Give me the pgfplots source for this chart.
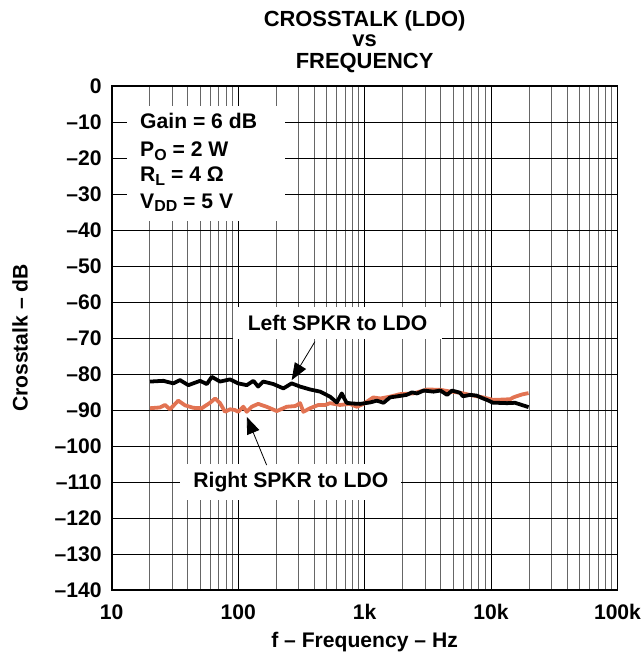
\documentclass[border=0pt]{standalone}
\usepackage{pgfplots}
\pgfplotsset{compat=1.18}
\usepackage{fontspec}
\setmainfont{Liberation Sans}
\usetikzlibrary{arrows.meta}
\definecolor{redc}{RGB}{226,115,82}
\newcommand{\sub}[1]{\raisebox{-3.5bp}{\fontsize{16}{16}\selectfont #1}}
\begin{document}
\begin{tikzpicture}[font=\fontsize{21.2}{24}\selectfont\bfseries]
\path[use as bounding box] (-111.7bp,-68bp) rectangle (532.3bp,590bp);
\begin{axis}[
  at={(0,0)}, anchor=south west,
  scale only axis, width=505.8bp, height=504bp,
  xmode=log, log basis x=10,
  xmin=10, xmax=100000, ymin=-140, ymax=0,
  xtick={10,100,1000,10000,100000},
  xticklabels={10,100,1k,10k,100k},
  minor xtick={20,30,40,50,60,70,80,90,200,300,400,500,600,700,800,900,2000,3000,4000,5000,6000,7000,8000,9000,20000,30000,40000,50000,60000,70000,80000,90000},
  ytick={-140,-130,-120,-110,-100,-90,-80,-70,-60,-50,-40,-30,-20,-10,0},
  yticklabels={–140,–130,–120,–110,–100,–90,–80,–70,–60,–50,–40,–30,–20,–10,0},
  major tick length=0pt, minor tick length=0pt,
  grid=both,
  major grid style={black, line width=0.7pt},
  minor grid style={black!60, line width=0.7pt},
  axis line style={black, line width=1.8pt},
  tick label style={font=\fontsize{21.2}{24}\selectfont\bfseries},
  yticklabel style={xshift=-6.5bp},
  xticklabel style={yshift=-11bp},
  clip=false,
]
% Right SPKR to LDO
\addplot[redc, line width=3.8pt, line join=round] coordinates {
(20.1,-89.5) (24,-89.3) (26.4,-88.6) (28.9,-89.8) (33.6,-87.4) (38,-88.7)
(44.3,-89.4) (51.6,-89.5) (59.9,-88.0) (65.7,-86.8) (71.9,-88.1) (78.8,-90.5)
(86.3,-89.8) (94.4,-90.0) (100,-90.5) (110,-89.1) (117,-90.5) (128,-89.1)
(144,-88.3) (168,-89.1) (202,-90.3) (242,-89.1) (283,-88.9) (309,-88.1)
(328,-90.5) (371,-89.5) (431,-88.6) (488,-88.6) (533,-88.1) (638,-88.6)
(765,-88.3) (867,-89.1) (980,-88.3) (1170,-86.5) (1330,-86.8) (1590,-86.3)
(1900,-85.6) (2420,-85.4) (3130,-84.3) (3980,-84.4) (4620,-84.8) (5670,-85.2)
(6820,-85.8) (8650,-86.5) (10400,-87.2) (12500,-87.1) (14200,-87.0)
(15000,-86.5) (17500,-85.7) (19800,-85.3)
};
% Left SPKR to LDO
\addplot[black, line width=3.8pt, line join=round] coordinates {
(20.1,-82.1) (25.6,-81.9) (30.7,-82.6) (34.7,-81.7) (40.4,-83.1) (50,-81.9)
(56.5,-82.8) (61.9,-80.8) (71.9,-82.1) (86.3,-81.5) (100,-82.6) (117,-83.1)
(132,-81.9) (144,-83.5) (158,-82.1) (190,-82.8) (228,-84.0) (265,-82.6)
(309,-83.5) (371,-84.3) (445,-84.9) (533,-86.3) (603,-87.9) (660,-85.4)
(720,-88.0) (800,-88.2) (920,-88.3) (1107,-87.9) (1250,-87.4) (1410,-88.0)
(1590,-86.5) (1900,-86.1) (2150,-85.8) (2370,-85.1) (2600,-85.4) (2930,-84.6)
(3510,-84.9) (3980,-84.6) (4490,-85.8) (4920,-84.6) (5670,-85.2) (6000,-86.2)
(6820,-85.8) (7690,-86.0) (8650,-86.8) (9280,-87.2) (10400,-88.0) (11170,-88.0)
(13360,-88.1) (15470,-88.0) (17500,-88.6) (19800,-89.2)
};
% parameter box
\fill[white] (axis cs:13.2,-5.6) rectangle (axis cs:235,-37.5);
\node[anchor=base west, inner sep=0pt] at (axis cs:16.75,-11.7) {Gain = 6 dB};
\node[anchor=base west, inner sep=0pt] at (axis cs:16.75,-19.6) {P\sub{O} = 2 W};
\node[anchor=base west, inner sep=0pt] at (axis cs:16.75,-26.6) {R\sub{L} = 4 Ω};
\node[anchor=base west, inner sep=0pt] at (axis cs:16.75,-33.9) {V\sub{DD} = 5 V};
% annotations
\node[fill=white, inner xsep=15bp, inner ysep=8bp] at (axis cs:611,-65.9) {Left SPKR to LDO};
\draw[line width=0.8pt, -{Triangle[length=17bp,width=13bp]}] (axis cs:405,-71.0) -- (axis cs:265,-81.7);
\node[fill=white, inner xsep=13bp, inner ysep=8bp] at (axis cs:261,-109.9) {Right SPKR to LDO};
\draw[line width=0.8pt, -{Triangle[length=17bp,width=13bp]}] (axis cs:168,-105.3) -- (axis cs:117,-91.9);
\end{axis}
% titles and labels (picture coordinates: axis box is 0..505.8 x 0..504)
\node[anchor=base, font=\fontsize{22}{24}\selectfont\bfseries] at (252.9bp,563.3bp) {CROSSTALK (LDO)};
\node[anchor=base, font=\fontsize{22}{24}\selectfont\bfseries] at (252.9bp,543.3bp) {vs};
\node[anchor=base, font=\fontsize{22}{24}\selectfont\bfseries] at (252.9bp,521.7bp) {FREQUENCY};
\node[anchor=base] at (252.9bp,-57bp) {f – Frequency – Hz};
\node[rotate=90, anchor=center] at (-91.7bp,252bp) {Crosstalk – dB};
\end{tikzpicture}
\end{document}
